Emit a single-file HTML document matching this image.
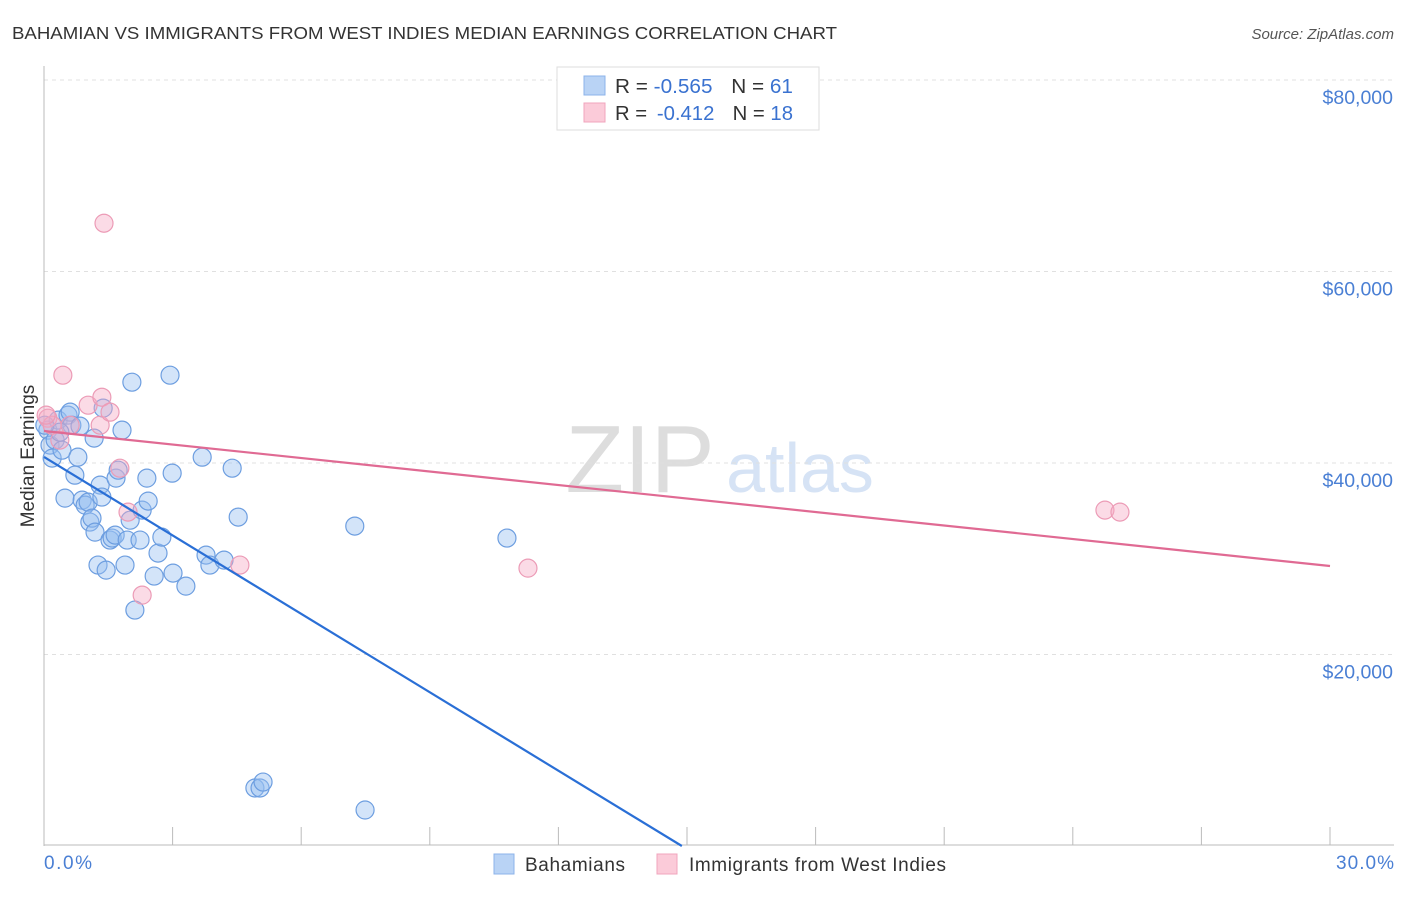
<!DOCTYPE html>
<html><head><meta charset="utf-8"><style>
body{margin:0;background:#fff;font-family:"Liberation Sans",sans-serif}
svg text{font-family:"Liberation Sans",sans-serif}
</style></head><body>
<svg id="chart" width="1406" height="892" xmlns="http://www.w3.org/2000/svg">
<text x="12" y="39" font-size="17.5" fill="#333" textLength="825" lengthAdjust="spacingAndGlyphs">BAHAMIAN VS IMMIGRANTS FROM WEST INDIES MEDIAN EARNINGS CORRELATION CHART</text>
<text x="1394" y="39" font-size="15" fill="#555" font-style="italic" text-anchor="end">Source: ZipAtlas.com</text>
<text x="640" y="492" font-size="96" fill="#ddd" font-family="Liberation Serif" text-anchor="middle">ZIP</text>
<text x="800" y="492" font-size="70" fill="#d6e3f5" text-anchor="middle">atlas</text>
<g id="grid"></g>
<g id="axes"></g>
<g id="marks"></g>
<text transform="translate(34,456) rotate(-90)" font-size="19" fill="#333" text-anchor="middle">Median Earnings</text>
<text x="44" y="869" font-size="19" fill="#4a7fd4" textLength="48">0.0%</text>
<text x="1336" y="869" font-size="19" fill="#4a7fd4" textLength="58">30.0%</text>
<g>
<rect x="557" y="67" width="262" height="63" fill="#fff" stroke="#ddd"/>
<rect x="584" y="76" width="21" height="19" fill="#b9d3f5" stroke="#8cb3ea"/>
<rect x="584" y="103" width="21" height="19" fill="#fbcbd9" stroke="#f0a5bd"/>
<text x="615" y="93" font-size="20" fill="#333" textLength="178" lengthAdjust="spacingAndGlyphs">R = <tspan fill="#3a72d0">-0.565</tspan><tspan dx="18">N = </tspan><tspan fill="#3a72d0">61</tspan></text>
<text x="615" y="120" font-size="20" fill="#333" textLength="178" lengthAdjust="spacingAndGlyphs">R = <tspan fill="#3a72d0" dx="4">-0.412</tspan><tspan dx="18">N = </tspan><tspan fill="#3a72d0">18</tspan></text>
</g>
<g>
<rect x="494" y="854" width="20" height="20" fill="#b9d3f5" stroke="#8cb3ea"/>
<text x="525" y="871" font-size="19" fill="#333" textLength="100">Bahamians</text>
<rect x="657" y="854" width="20" height="20" fill="#fbcbd9" stroke="#f0a5bd"/>
<text x="689" y="871" font-size="19" fill="#333" textLength="257">Immigrants from West Indies</text>
</g>
</svg>
<script>
const yTicks=[20000,40000,60000,80000];
const yTickLabels=["$20,000","$40,000","$60,000","$80,000"];
const xTicks=[0,3,6,9,12,15,18,21,24,27,30];
const blueX=[0.09,0.14,0.19,0.26,0.33,0.42,0.49,0.56,0.61,0.65,0.72,0.79,0.84,0.89,0.96,1.03,1.07,1.12,1.17,1.19,1.26,1.31,1.35,1.38,1.45,1.54,1.59,1.66,1.68,1.73,1.82,1.89,1.94,2.01,2.05,2.12,2.24,2.29,2.40,2.43,2.57,2.66,2.75,2.94,2.99,3.01,3.31,3.69,3.78,3.87,4.20,4.39,4.53,4.92,5.04,5.11,7.25,7.49,10.80,0.37,0.02];
const blueY=[43430,41870,40510,42390,44480,41340,36330,45000,45310,43950,38730,40610,43850,36120,35600,35910,33830,34240,42600,32780,29340,37690,36440,45730,28810,31950,32160,32470,38420,39250,43430,29340,31950,34030,48440,24640,31950,35080,38420,36020,28190,30590,32260,49170,38940,28500,27140,40610,30380,29340,29860,39460,34350,6060,6060,6680,33410,3760,32160,43220,43950];
const pinkX=[0.09,0.19,0.37,0.44,0.61,1.03,1.31,1.35,1.40,1.54,1.77,1.96,2.29,4.57,11.29,24.75,25.10,0.05];
const pinkY=[44680,43950,42390,49170,43950,46040,43950,46870,65040,45310,39460,34870,26200,29340,29020,35080,34870,45000];
const blueTrend=[[0,40630],[14.88,0]];
const pinkTrend=[[0,43340],[30,29240]];
const NS="http://www.w3.org/2000/svg";
const X0=44,X1=1330,Y0=846,PX_PER=191.5/20000;
const sx=v=>X0+(X1-X0)*v/30;
const sy=v=>Y0-v*PX_PER;
function mk(tag,attrs,parent){const e=document.createElementNS(NS,tag);for(const k in attrs)e.setAttribute(k,attrs[k]);document.getElementById(parent).appendChild(e);return e;}
yTicks.forEach((t,i)=>{
  const l=mk('line',{x1:44,x2:1394,y1:sy(t),y2:sy(t),stroke:'#e0e0e0','stroke-dasharray':'4,4'},'grid');
  
  
  const tx=mk('text',{x:1393,y:sy(t)+24,'font-size':19.5,fill:'#4a7fd4','text-anchor':'end'},'axes');
  tx.textContent=yTickLabels[i];
  
  
});
const ya=mk('line',{x1:44,x2:44,y1:66,y2:846,stroke:'#bbb'},'axes');


const xa=mk('line',{x1:44,x2:1394,y1:845,y2:845,stroke:'#bbb'},'axes');


xTicks.forEach(t=>{
  const l=mk('line',{x1:sx(t),x2:sx(t),y1:827,y2:845,stroke:'#bbb'},'axes');
  
  
});
function dots(xs,ys,fill,stroke,name){
  xs.forEach((x,i)=>{
    const c=mk('circle',{cx:sx(x),cy:sy(ys[i]),r:9,fill:fill,stroke:stroke,'stroke-width':1.2},'marks');
    
    
  });
}
dots(blueX,blueY,'rgba(150,190,240,0.42)','#6d9ee0','bahamian-point');
dots(pinkX,pinkY,'rgba(245,170,195,0.42)','#ec9bb6','west-indies-point');
const bl=mk('line',{x1:sx(blueTrend[0][0]),y1:sy(blueTrend[0][1]),x2:sx(blueTrend[1][0]),y2:sy(blueTrend[1][1]),stroke:'#2a6fd6','stroke-width':2.2},'marks');


const pl=mk('line',{x1:sx(pinkTrend[0][0]),y1:sy(pinkTrend[0][1]),x2:sx(pinkTrend[1][0]),y2:sy(pinkTrend[1][1]),stroke:'#e06a93','stroke-width':2.2},'marks');


</script>
</body></html>
